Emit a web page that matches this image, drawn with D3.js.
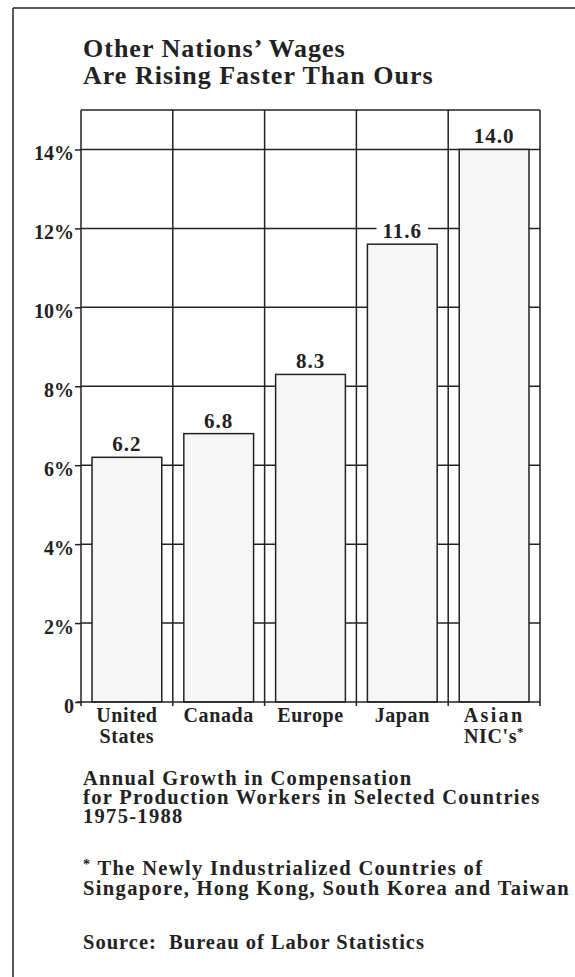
<!DOCTYPE html>
<html>
<head>
<meta charset="utf-8">
<script src="https://cdn.jsdelivr.net/npm/d3@7"></script>
<style>
  html, body { margin: 0; padding: 0; background: #fff; }
  svg { display: block; }
  text { font-family: "Liberation Serif", "Times New Roman", serif; font-weight: bold; fill: #222; }
</style>
</head>
<body>
<svg id="chart" width="575" height="977"></svg>
<script>
// ---- data ----
const categories = ["United States", "Canada", "Europe", "Japan", "Asian NIC's"];
const categoryLines = [["United", "States"], ["Canada"], ["Europe"], ["Japan"], ["Asian", "NIC's"]];
const values = [6.2, 6.8, 8.3, 11.6, 14.0];
const valueLabels = ["6.2", "6.8", "8.3", "11.6", "14.0"];
const yTicks = [0, 2, 4, 6, 8, 10, 12, 14];
const titleLines = ["Other Nations\u2019 Wages", "Are Rising Faster Than Ours"];
const captionLines = ["Annual Growth in Compensation", "for Production Workers in Selected Countries", "1975-1988"];
const footnoteLines = ["* The Newly Industrialized Countries of", "Singapore, Hong Kong, South Korea and Taiwan"];
const sourceLine = "Source:  Bureau of Labor Statistics";

// ---- layout ----
const svg = d3.select("#chart");
const ink = "#222";
const L = 81, R = 540, T = 110, B = 702;

svg.append("rect").attr("width", 575).attr("height", 977).attr("fill", "#fff");

// outer frame (left and top)
svg.append("line").attr("x1", 13).attr("x2", 13).attr("y1", 8).attr("y2", 977)
  .attr("stroke", ink).attr("stroke-width", 1.5);
svg.append("line").attr("x1", 13).attr("x2", 575).attr("y1", 8).attr("y2", 8)
  .attr("stroke", ink).attr("stroke-width", 1.5);

const x = d3.scaleBand().domain(categories).range([L, R]).paddingInner(0.24).paddingOuter(0.12);
const y = d3.scaleLinear().domain([0, 15]).range([B, T]);
const gap = (x.step() - x.bandwidth()) / 2;
const boundaries = categories.map(c => x(c) - gap).concat([R]);

// title
svg.append("g").selectAll("text").data(titleLines).join("text")
  .attr("x", 83).attr("y", (d, i) => 57 + i * 26.5)
  .attr("font-size", 26).attr("letter-spacing", 1)
  .text(d => d);

// grid: horizontal lines
const grid = svg.append("g");
grid.selectAll("line.h").data(yTicks.filter(d => d > 0).concat([15])).join("line")
  .attr("class", "h")
  .attr("x1", L).attr("x2", R)
  .attr("y1", d => y(d)).attr("y2", d => y(d))
  .attr("stroke", ink).attr("stroke-width", 1.5);
// grid: vertical lines at band boundaries
grid.selectAll("line.v").data(boundaries).join("line")
  .attr("class", "v")
  .attr("x1", d => d).attr("x2", d => d)
  .attr("y1", T).attr("y2", B + 4)
  .attr("stroke", ink).attr("stroke-width", 1.5);

// bars
svg.append("g").selectAll("rect").data(values).join("rect")
  .attr("x", (d, i) => x(categories[i]))
  .attr("width", x.bandwidth())
  .attr("y", d => y(d))
  .attr("height", d => y(0) - y(d))
  .attr("fill", "#f6f6f6")
  .attr("stroke", ink).attr("stroke-width", 1.5);

// baseline
svg.append("line").attr("x1", L - 4).attr("x2", R).attr("y1", B).attr("y2", B)
  .attr("stroke", ink).attr("stroke-width", 1.5);

// y axis
const yAxis = svg.append("g").attr("transform", `translate(${L},0)`)
  .call(d3.axisLeft(y).tickValues(yTicks).tickSize(6).tickPadding(1)
    .tickFormat(d => d === 0 ? "0" : d + "%"));
yAxis.select(".domain").remove();
yAxis.selectAll(".tick line").attr("stroke", ink).attr("stroke-width", 1.5);
yAxis.selectAll(".tick text")
  .attr("font-family", "Liberation Serif, serif").attr("font-weight", "bold")
  .attr("font-size", 20).attr("fill", ink).attr("dy", "0.52em");

// value labels with white backing
const vl = svg.append("g").selectAll("g").data(values).join("g")
  .attr("transform", (d, i) => `translate(${x(categories[i]) + x.bandwidth() / 2},${y(d) - 6})`);
vl.append("text").attr("text-anchor", "middle")
  .attr("font-size", 21).attr("letter-spacing", 1)
  .text((d, i) => valueLabels[i]);
vl.each(function() {
  const g = d3.select(this);
  const bb = g.select("text").node().getBBox();
  g.insert("rect", "text")
    .attr("x", bb.x - 6).attr("y", bb.y + 2)
    .attr("width", bb.width + 12).attr("height", bb.height - 3)
    .attr("fill", "#fff");
});

// category labels (one text per line)
const catG = svg.append("g");
categories.forEach((c, i) => {
  const cx = x(c) + x.bandwidth() / 2;
  categoryLines[i].forEach((ln, j) => {
    const t = catG.append("text")
      .attr("text-anchor", "middle")
      .attr("font-size", 20)
      .attr("x", cx).attr("y", 722 + j * 20.5)
      .attr("letter-spacing", ln === "Asian" ? 2.4 : 0.6);
    t.append("tspan").text(ln);
    if (i === categories.length - 1 && j === 1) {
      t.append("tspan").attr("font-size", 13).attr("dy", -7).text("*");
    }
  });
});

// caption
svg.append("g").selectAll("text").data(captionLines).join("text")
  .attr("x", 83).attr("y", (d, i) => 785 + i * 19)
  .attr("font-size", 20.5).attr("letter-spacing", 1.3)
  .text(d => d);

// footnote
const fn = svg.append("g").selectAll("text").data(footnoteLines).join("text")
  .attr("x", 83).attr("y", (d, i) => 875 + i * 19.5)
  .attr("font-size", 20.5).attr("letter-spacing", 1.35);
fn.each(function(d) {
  const t = d3.select(this);
  if (d.startsWith("*")) {
    t.append("tspan").attr("font-size", 14).attr("dy", -6).text("*");
    t.append("tspan").attr("dy", 6).text(d.slice(1));
  } else {
    t.text(d);
  }
});

// source
svg.append("text").attr("x", 83).attr("y", 949)
  .attr("font-size", 20.5).attr("letter-spacing", 1)
  .attr("xml:space", "preserve").style("white-space", "pre")
  .text(sourceLine);
</script>
</body>
</html>
